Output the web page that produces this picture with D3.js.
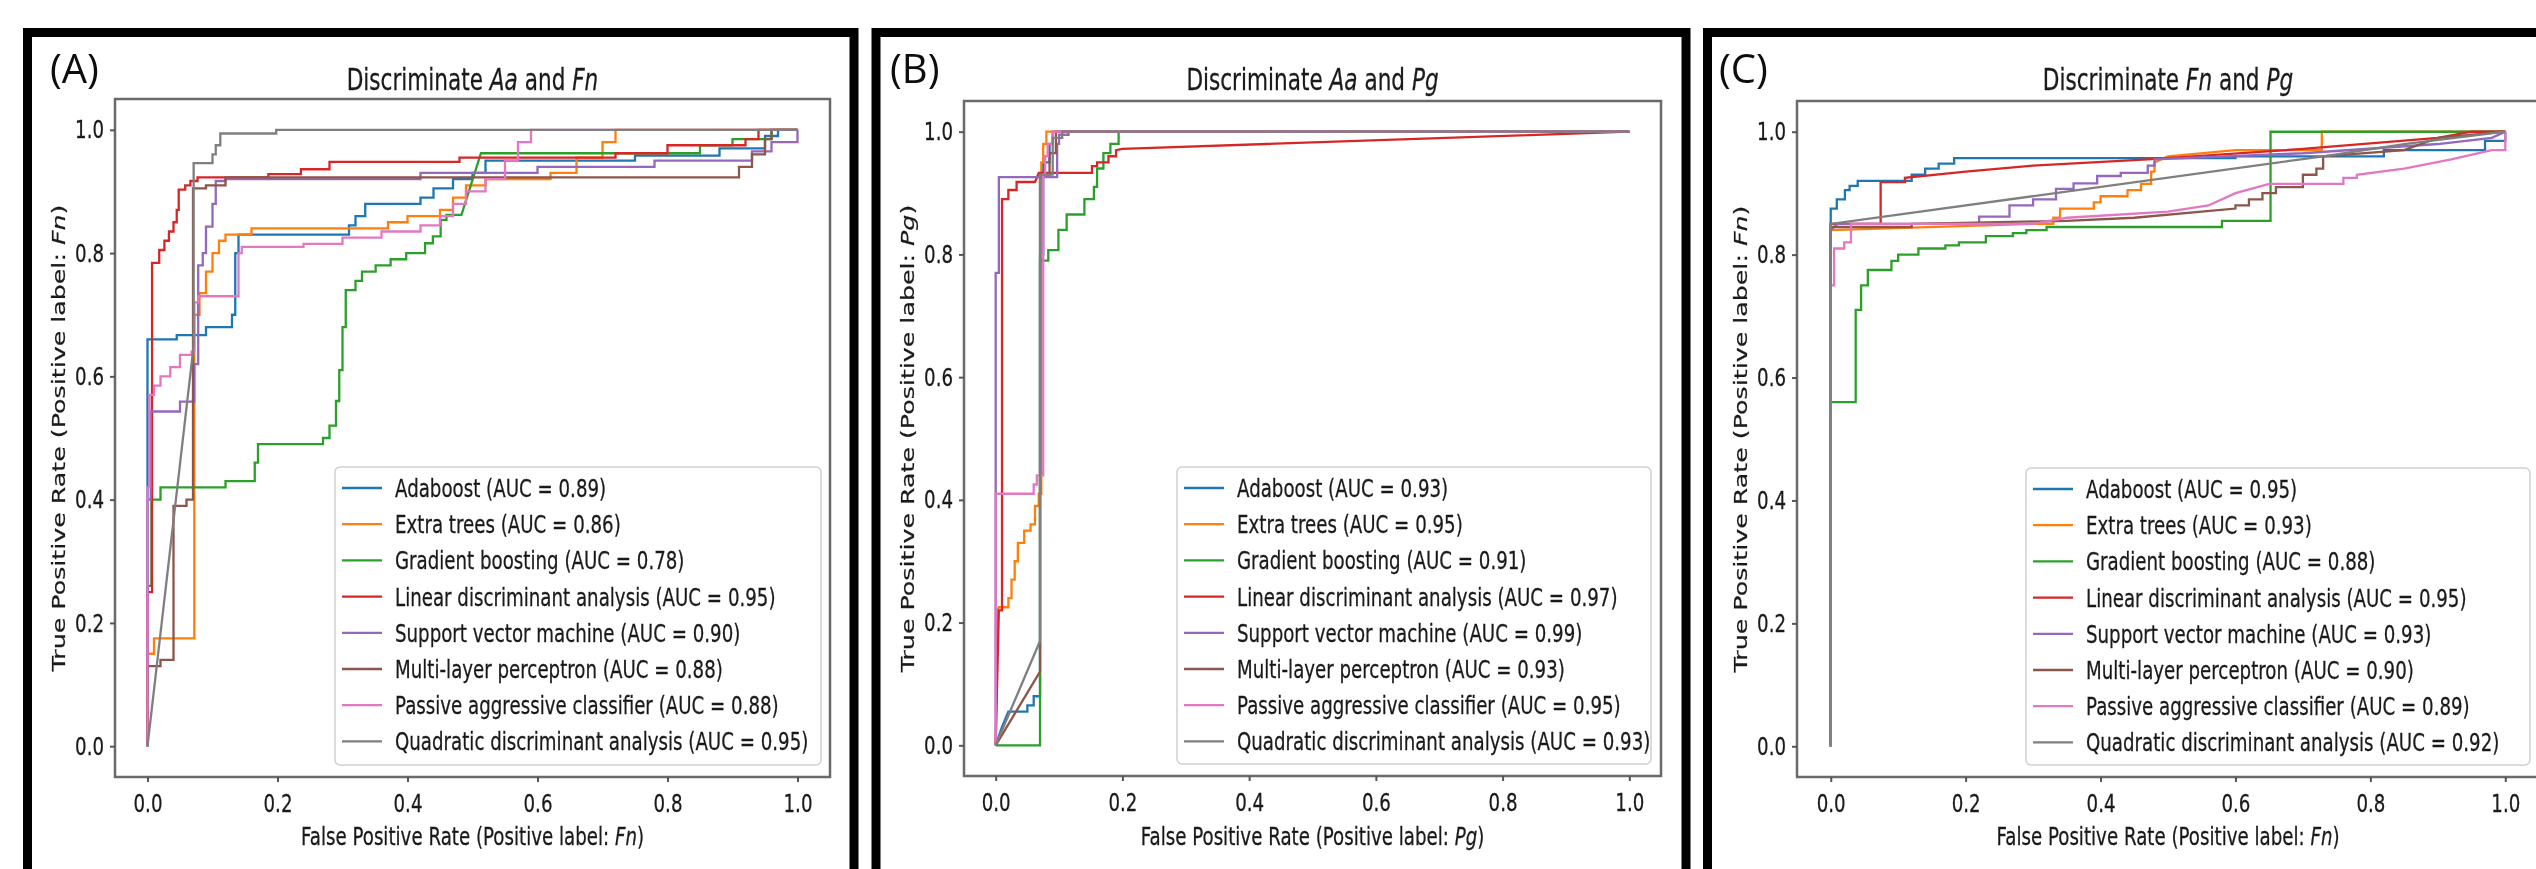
<!DOCTYPE html>
<html>
<head>
<meta charset="utf-8">
<script src="https://cdn.jsdelivr.net/npm/d3@7"></script>
<style>
  body { margin: 0; background: #fff; }
  svg { display: block; }
</style>
</head>
<body>
<svg id="fig" width="2536" height="869"></svg>
<script>
// ---- data ----
var classNames = ["Adaboost", "Extra trees", "Gradient boosting", "Linear discriminant analysis",
  "Support vector machine", "Multi-layer perceptron", "Passive aggressive classifier",
  "Quadratic discriminant analysis"];
var lineColors = ["#1f77b4", "#ff7f0e", "#2ca02c", "#d62728", "#9467bd", "#8c564b", "#e377c2", "#7f7f7f"];
var tickValues = [0, 0.2, 0.4, 0.6, 0.8, 1.0];
var panelLetters = ["(A)", "(B)", "(C)"];
var speciesPairs = [["Aa", "Fn"], ["Aa", "Pg"], ["Fn", "Pg"]];
var positiveLabels = ["Fn", "Pg", "Fn"];

var aucA = [0.89, 0.86, 0.78, 0.95, 0.90, 0.88, 0.88, 0.95];
var aucB = [0.93, 0.95, 0.91, 0.97, 0.99, 0.93, 0.95, 0.93];
var aucC = [0.95, 0.93, 0.88, 0.95, 0.93, 0.90, 0.89, 0.92];

// [fpr, tpr] points, one list per classifier (same order as classNames)
var rocA = [
  [[0,0],[0,0.66],[0.045,0.66],[0.045,0.667],[0.09,0.667],[0.09,0.68],[0.13,0.68],[0.13,0.70],[0.135,0.70],[0.135,0.80],[0.14,0.80],[0.14,0.83],[0.31,0.83],[0.31,0.845],[0.32,0.845],[0.32,0.86],[0.335,0.86],[0.335,0.88],[0.42,0.88],[0.42,0.89],[0.44,0.89],[0.44,0.905],[0.47,0.905],[0.47,0.92],[0.5,0.92],[0.5,0.93],[0.52,0.93],[0.52,0.95],[0.75,0.95],[0.75,0.958],[0.88,0.958],[0.88,0.97],[0.95,0.97],[0.95,0.99],[0.97,0.99],[0.97,1],[1,1]],
  [[0,0],[0,0.15],[0.01,0.15],[0.01,0.175],[0.072,0.175],[0.072,0.7],[0.08,0.7],[0.08,0.735],[0.09,0.735],[0.09,0.77],[0.1,0.77],[0.1,0.8],[0.11,0.8],[0.11,0.82],[0.12,0.82],[0.12,0.83],[0.16,0.83],[0.16,0.84],[0.37,0.84],[0.37,0.85],[0.4,0.85],[0.4,0.86],[0.45,0.86],[0.45,0.87],[0.47,0.87],[0.47,0.89],[0.49,0.89],[0.49,0.91],[0.52,0.91],[0.52,0.92],[0.62,0.92],[0.62,0.93],[0.66,0.93],[0.66,0.955],[0.7,0.955],[0.7,0.98],[0.72,0.98],[0.72,1],[1,1]],
  [[0,0],[0,0.26],[0.006,0.26],[0.006,0.40],[0.02,0.40],[0.02,0.42],[0.12,0.42],[0.12,0.43],[0.165,0.43],[0.165,0.46],[0.17,0.46],[0.17,0.49],[0.27,0.49],[0.27,0.5],[0.28,0.5],[0.28,0.52],[0.29,0.52],[0.29,0.56],[0.295,0.56],[0.295,0.61],[0.3,0.61],[0.3,0.68],[0.305,0.68],[0.305,0.74],[0.32,0.74],[0.32,0.755],[0.33,0.755],[0.33,0.77],[0.351,0.77],[0.351,0.78],[0.374,0.78],[0.374,0.79],[0.398,0.79],[0.398,0.8],[0.427,0.8],[0.427,0.816],[0.439,0.816],[0.439,0.827],[0.451,0.827],[0.451,0.854],[0.46,0.854],[0.46,0.862],[0.483,0.862],[0.513,0.962],[0.85,0.962],[0.85,0.975],[0.9,0.975],[0.9,0.985],[0.96,0.985],[0.96,1],[1,1]],
  [[0,0],[0,0.25],[0.007,0.25],[0.007,0.784],[0.018,0.784],[0.018,0.805],[0.026,0.805],[0.026,0.82],[0.033,0.82],[0.033,0.835],[0.04,0.835],[0.04,0.85],[0.045,0.85],[0.045,0.87],[0.048,0.87],[0.048,0.903],[0.058,0.903],[0.058,0.91],[0.066,0.91],[0.066,0.917],[0.077,0.917],[0.077,0.923],[0.186,0.923],[0.186,0.928],[0.236,0.928],[0.236,0.936],[0.28,0.936],[0.28,0.948],[0.48,0.948],[0.48,0.955],[0.72,0.955],[0.72,0.962],[0.8,0.962],[0.8,0.975],[0.92,0.975],[0.92,0.985],[0.94,0.985],[0.94,1],[1,1]],
  [[0,0],[0,0.4],[0.005,0.4],[0.005,0.543],[0.05,0.543],[0.05,0.559],[0.072,0.559],[0.072,0.62],[0.078,0.62],[0.078,0.78],[0.085,0.78],[0.085,0.8],[0.09,0.8],[0.09,0.843],[0.1,0.843],[0.1,0.88],[0.105,0.88],[0.105,0.917],[0.12,0.917],[0.12,0.92],[0.42,0.92],[0.42,0.93],[0.6,0.93],[0.6,0.94],[0.78,0.94],[0.78,0.95],[0.93,0.95],[0.93,0.965],[0.96,0.965],[0.96,0.98],[1,0.98],[1,1]],
  [[0,0],[0,0.13],[0.02,0.13],[0.02,0.14],[0.04,0.14],[0.04,0.39],[0.06,0.39],[0.06,0.40],[0.07,0.40],[0.07,0.905],[0.09,0.905],[0.09,0.91],[0.12,0.91],[0.12,0.923],[0.91,0.923],[0.91,0.94],[0.93,0.94],[0.93,0.96],[0.95,0.96],[0.95,0.985],[0.96,0.985],[0.96,1],[1,1]],
  [[0,0],[0,0.42],[0.003,0.42],[0.003,0.57],[0.01,0.57],[0.01,0.585],[0.02,0.585],[0.02,0.6],[0.035,0.6],[0.035,0.615],[0.05,0.615],[0.05,0.635],[0.068,0.635],[0.068,0.64],[0.072,0.64],[0.072,0.72],[0.078,0.72],[0.078,0.73],[0.14,0.73],[0.14,0.8],[0.145,0.8],[0.145,0.81],[0.24,0.81],[0.24,0.815],[0.3,0.815],[0.3,0.825],[0.36,0.825],[0.36,0.835],[0.42,0.835],[0.42,0.845],[0.45,0.845],[0.45,0.86],[0.47,0.86],[0.47,0.88],[0.49,0.88],[0.49,0.9],[0.52,0.9],[0.52,0.92],[0.55,0.92],[0.55,0.95],[0.57,0.95],[0.57,0.98],[0.59,0.98],[0.59,1],[1,1]],
  [[0,0],[0.071,0.65],[0.071,0.946],[0.1,0.946],[0.1,0.96],[0.105,0.96],[0.105,0.975],[0.112,0.975],[0.112,0.994],[0.198,0.994],[0.198,1],[1,1]]
];

var rocB = [
  [[0,0],[0.01,0.03],[0.02,0.055],[0.05,0.055],[0.05,0.065],[0.06,0.065],[0.06,0.08],[0.07,0.08],[0.07,0.8],[0.075,0.8],[0.075,0.95],[0.085,0.95],[0.085,0.98],[0.09,0.98],[0.09,1],[1,1]],
  [[0,0],[0.003,0.22],[0.005,0.225],[0.02,0.225],[0.02,0.24],[0.025,0.24],[0.025,0.27],[0.03,0.27],[0.03,0.3],[0.035,0.3],[0.035,0.33],[0.045,0.33],[0.045,0.35],[0.055,0.35],[0.055,0.36],[0.062,0.36],[0.062,0.39],[0.068,0.39],[0.068,0.41],[0.072,0.41],[0.072,0.95],[0.075,0.95],[0.075,0.98],[0.08,0.98],[0.08,1],[1,1]],
  [[0,0],[0.07,0],[0.07,0.79],[0.083,0.79],[0.083,0.807],[0.099,0.807],[0.099,0.84],[0.112,0.84],[0.112,0.865],[0.14,0.865],[0.14,0.89],[0.155,0.89],[0.155,0.91],[0.16,0.91],[0.16,0.94],[0.17,0.94],[0.17,0.965],[0.181,0.965],[0.181,0.98],[0.194,0.98],[0.194,1],[1,1]],
  [[0,0],[0.005,0.22],[0.01,0.22],[0.01,0.89],[0.02,0.89],[0.02,0.905],[0.033,0.905],[0.033,0.918],[0.062,0.918],[0.065,0.925],[0.068,0.933],[0.152,0.933],[0.152,0.944],[0.16,0.944],[0.16,0.95],[0.178,0.95],[0.178,0.96],[0.19,0.96],[0.19,0.97],[0.2,0.972],[1,1]],
  [[0,0],[0,0.77],[0.005,0.77],[0.005,0.926],[0.097,0.926],[0.097,0.98],[0.1,0.98],[0.1,0.995],[0.115,0.995],[0.115,1],[1,1]],
  [[0,0],[0.07,0.12],[0.07,0.93],[0.085,0.93],[0.085,0.965],[0.095,0.965],[0.095,1],[1,1]],
  [[0,0],[0,0.41],[0.06,0.41],[0.06,0.425],[0.065,0.425],[0.065,0.44],[0.075,0.44],[0.075,0.93],[0.078,0.93],[0.078,0.96],[0.082,0.96],[0.082,0.98],[0.09,0.98],[0.09,1],[1,1]],
  [[0,0],[0.07,0.17],[0.07,0.93],[0.09,0.93],[0.09,0.99],[0.105,0.99],[0.105,1],[1,1]]
];

var rocC = [
  [[0,0],[0,0.875],[0.009,0.875],[0.009,0.89],[0.021,0.89],[0.021,0.905],[0.028,0.905],[0.028,0.912],[0.04,0.912],[0.04,0.92],[0.12,0.92],[0.12,0.93],[0.14,0.93],[0.14,0.94],[0.16,0.94],[0.16,0.948],[0.183,0.948],[0.183,0.957],[0.6,0.957],[0.6,0.96],[0.82,0.96],[0.82,0.97],[0.97,0.97],[0.97,0.985],[1,0.985],[1,1]],
  [[0,0],[0,0.84],[0.3,0.85],[0.33,0.85],[0.33,0.86],[0.34,0.86],[0.34,0.875],[0.39,0.875],[0.39,0.885],[0.4,0.885],[0.4,0.895],[0.44,0.895],[0.44,0.905],[0.46,0.905],[0.46,0.915],[0.475,0.915],[0.475,0.935],[0.48,0.935],[0.48,0.95],[0.5,0.96],[0.6,0.97],[0.728,0.97],[0.728,1],[1,1]],
  [[0,0],[0,0.56],[0.037,0.56],[0.037,0.71],[0.045,0.71],[0.045,0.75],[0.055,0.75],[0.055,0.775],[0.09,0.775],[0.09,0.79],[0.1,0.79],[0.1,0.8],[0.13,0.8],[0.13,0.81],[0.17,0.81],[0.17,0.815],[0.19,0.815],[0.19,0.82],[0.23,0.82],[0.23,0.83],[0.27,0.83],[0.27,0.835],[0.29,0.835],[0.29,0.84],[0.32,0.84],[0.32,0.845],[0.58,0.845],[0.58,0.855],[0.652,0.855],[0.652,1],[1,1]],
  [[0,0],[0,0.85],[0.074,0.85],[0.074,0.918],[0.11,0.918],[0.11,0.925],[0.2,0.935],[0.3,0.945],[0.47,0.955],[0.7,0.972],[0.9,0.99],[0.95,1],[1,1]],
  [[0,0],[0,0.84],[0.01,0.85],[0.22,0.85],[0.22,0.862],[0.265,0.862],[0.265,0.88],[0.3,0.88],[0.3,0.89],[0.334,0.89],[0.334,0.907],[0.36,0.907],[0.36,0.916],[0.395,0.916],[0.395,0.928],[0.43,0.928],[0.43,0.933],[0.47,0.933],[0.47,0.945],[0.48,0.945],[0.48,0.955],[0.7,0.965],[0.9,0.98],[0.98,0.99],[1,1]],
  [[0,0],[0,0.845],[0.12,0.845],[0.12,0.85],[0.35,0.855],[0.45,0.86],[0.55,0.87],[0.6,0.875],[0.6,0.88],[0.62,0.88],[0.62,0.89],[0.64,0.89],[0.64,0.9],[0.66,0.9],[0.66,0.91],[0.7,0.91],[0.7,0.93],[0.72,0.93],[0.72,0.94],[0.73,0.94],[0.73,0.96],[0.85,0.97],[0.9,0.99],[1,1]],
  [[0,0],[0,0.75],[0.005,0.75],[0.005,0.81],[0.02,0.81],[0.02,0.82],[0.03,0.82],[0.03,0.85],[0.3,0.85],[0.35,0.86],[0.5,0.87],[0.56,0.88],[0.6,0.9],[0.65,0.915],[0.76,0.915],[0.76,0.925],[0.78,0.925],[0.78,0.93],[0.85,0.94],[0.92,0.955],[0.98,0.97],[1,0.97],[1,1]],
  [[0,0],[0,0.85],[0.73,0.96],[0.85,0.98],[1,1]]
];

var aucs = [aucA, aucB, aucC];
var rocs = [rocA, rocB, rocC];

// ---- layout (pixels) ----
// the whole figure was squeezed horizontally, so text is narrowed along screen x only
var squeeze = 0.72;
var fontMain = "DejaVu Sans";
var baseSize = 25.3, titleSize = 30;
var layout = [
  { frame: [27.5, 32.5, 854], axes: [115, 99, 830, 777], legend: [335, 467, 821, 765], letterX: 50 },
  { frame: [876, 32.5, 1686], axes: [964, 101, 1661, 776], legend: [1177, 467, 1651, 764], letterX: 890 },
  { frame: [1707.5, 32.5, 2700], axes: [1797, 101, 2539, 777], legend: [2026, 468, 2530, 765], letterX: 1719 }
];

var svg = d3.select("#fig");
var defs = svg.append("defs");
defs.append("filter").attr("id", "soft")
  .append("feGaussianBlur").attr("stdDeviation", 0.55);

function condensedText(parent, x, y, parts, size, anchor, rotate) {
  var t = parent.append("text")
    .attr("transform", "translate(" + x + "," + y + ")" +
      (rotate ? " rotate(-90) scale(1," + squeeze + ")" : " scale(" + squeeze + ",1)"))
    .attr("font-family", fontMain)
    .attr("font-size", size)
    .attr("fill", "#1a1a1a")
    .attr("stroke", "#1a1a1a").attr("stroke-width", 0.3)
    .attr("text-anchor", anchor);
  parts.forEach(function(p) {
    t.append("tspan").attr("font-style", p.it ? "italic" : "normal").text(p.s);
  });
  return t;
}

function drawPanel(i) {
  var L = layout[i];
  var g = svg.append("g").attr("class", "panel").attr("filter", "url(#soft)");
  var ax = L.axes;

  var x = d3.scaleLinear().domain([-0.05, 1.05]).range([ax[0], ax[2]]);
  var y = d3.scaleLinear().domain([-0.05, 1.05]).range([ax[3], ax[1]]);

  // outer black frame (cut by the bottom of the picture)
  g.append("rect")
    .attr("x", L.frame[0]).attr("y", L.frame[1])
    .attr("width", L.frame[2] - L.frame[0]).attr("height", 1000)
    .attr("fill", "none").attr("stroke", "#000").attr("stroke-width", 9);

  g.append("text")
    .attr("x", L.letterX).attr("y", 83)
    .attr("font-family", "Open Sans").attr("font-size", 40).attr("fill", "#111")
    .text(panelLetters[i]);

  var clipId = "clip" + i;
  defs.append("clipPath").attr("id", clipId).append("rect")
    .attr("x", ax[0]).attr("y", ax[1]).attr("width", ax[2] - ax[0]).attr("height", ax[3] - ax[1]);

  var line = d3.line().x(function(d) { return x(d[0]); }).y(function(d) { return y(d[1]); });
  var curves = g.append("g").attr("clip-path", "url(#" + clipId + ")");
  rocs[i].forEach(function(c, k) {
    curves.append("path")
      .attr("d", line(c))
      .attr("fill", "none")
      .attr("stroke", lineColors[k])
      .attr("stroke-width", 2.3);
  });

  // spines
  g.append("rect")
    .attr("x", ax[0]).attr("y", ax[1]).attr("width", ax[2] - ax[0]).attr("height", ax[3] - ax[1])
    .attr("fill", "none").attr("stroke", "#6a6a6a").attr("stroke-width", 2.5);

  var fmt = d3.format(".1f");
  var yAxis = g.append("g")
    .attr("transform", "translate(" + ax[0] + ",0)")
    .call(d3.axisLeft(y).tickValues(tickValues).tickFormat(fmt).tickSize(5).tickPadding(6).tickSizeOuter(0));
  var xAxis = g.append("g")
    .attr("transform", "translate(0," + ax[3] + ")")
    .call(d3.axisBottom(x).tickValues(tickValues).tickFormat(fmt).tickSize(5).tickPadding(12).tickSizeOuter(0));
  [yAxis, xAxis].forEach(function(a) {
    a.select(".domain").remove();
    a.attr("font-family", fontMain).attr("font-size", baseSize).attr("color", "#555");
    a.selectAll("line").attr("stroke-width", 2);
    a.selectAll("text").attr("fill", "#1a1a1a").attr("stroke", "#1a1a1a").attr("stroke-width", 0.3);
  });
  yAxis.selectAll("text").attr("x", -11 / squeeze).attr("transform", "scale(" + squeeze + ",1)");
  xAxis.selectAll("text").attr("transform", "scale(" + squeeze + ",1)");

  var cx = (ax[0] + ax[2]) / 2, cy = (ax[1] + ax[3]) / 2;
  var pair = speciesPairs[i], pos = positiveLabels[i];
  condensedText(g, cx, 90, [{ s: "Discriminate " }, { s: pair[0], it: true }, { s: " and " }, { s: pair[1], it: true }], titleSize, "middle");
  condensedText(g, cx, 845, [{ s: "False Positive Rate (Positive label: " }, { s: pos, it: true }, { s: ")" }], baseSize, "middle");
  condensedText(g, ax[0] - 50, cy, [{ s: "True Positive Rate (Positive label: " }, { s: pos, it: true }, { s: ")" }], baseSize, "middle", true);

  // legend
  var lg = L.legend;
  g.append("rect")
    .attr("x", lg[0]).attr("y", lg[1]).attr("width", lg[2] - lg[0]).attr("height", lg[3] - lg[1])
    .attr("rx", 5).attr("fill", "#fff").attr("fill-opacity", 0.85)
    .attr("stroke", "#d0d0d0").attr("stroke-width", 1.5);
  classNames.forEach(function(name, k) {
    var ry = lg[1] + 21 + k * 36.2;
    g.append("line")
      .attr("x1", lg[0] + 7).attr("x2", lg[0] + 47).attr("y1", ry).attr("y2", ry)
      .attr("stroke", lineColors[k]).attr("stroke-width", 2.3);
    condensedText(g, lg[0] + 60, ry + 9, [{ s: name + " (AUC = " + aucs[i][k].toFixed(2) + ")" }], baseSize, "start");
  });
}

[0, 1, 2].forEach(drawPanel);
</script>
</body>
</html>
